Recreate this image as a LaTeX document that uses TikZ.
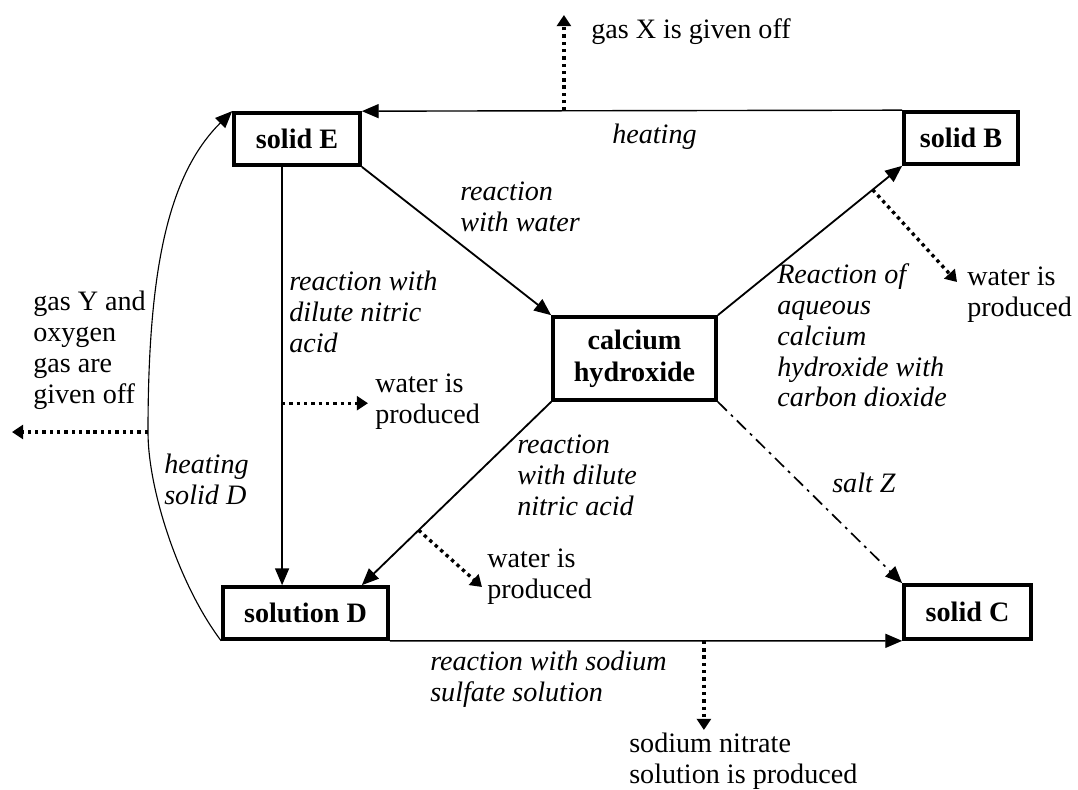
\documentclass[tikz,border=0pt]{standalone}
\usepackage{fontspec}
\setmainfont{Liberation Serif}
\usetikzlibrary{arrows.meta,calc}
\begin{document}
\begin{tikzpicture}[x=0.025cm,y=-0.025cm,
  box/.style={draw,line width=2.6pt,font=\fontsize{20}{22.5}\selectfont\bfseries,align=center,inner sep=0pt},
  lbl/.style={anchor=north west,inner sep=0pt,align=left,font=\fontsize{20}{22}\selectfont},
  ilbl/.style={anchor=north west,inner sep=0pt,align=left,font=\fontsize{20}{22}\selectfont\itshape},
  arr/.style={line width=1.3pt,-{Triangle[length=12pt,width=10pt]}},
  thinarr/.style={line width=1pt,-{Triangle[length=12pt,width=10pt]}},
  curvearr/.style={line width=0.8pt,-{Triangle[length=12pt,width=10pt]}},
  dotarr/.style={line width=2.4pt,dash pattern=on 2.4pt off 2.8pt,-{Triangle[length=8pt,width=10pt]}},
  dasharr/.style={line width=1.2pt,dash pattern=on 9pt off 4pt on 2pt off 4pt,-{Triangle[length=12pt,width=10pt]}},
  ]
\fill[white] (0,0) rectangle (1078,789);
\useasboundingbox (0,0) rectangle (1078,789);

% boxes
\node[box,minimum width=3.15cm,minimum height=1.3cm] (E) at (297,139) {solid E};
\node[box,minimum width=2.85cm,minimum height=1.3cm] (B) at (961,138) {solid B};
\node[box,minimum width=4.075cm,minimum height=2.075cm] (Ca) at (634.5,358.5) {calcium\\hydroxide};
\node[box,minimum width=4.125cm,minimum height=1.3cm] (D) at (305.5,613) {solution D};
\node[box,minimum width=3.175cm,minimum height=1.35cm] (C) at (967.5,612) {solid C};

% B -> E (heating)
\draw[thinarr] (B.north west) -- (E.north east);
\coordinate (gx0) at ($(E.north east)!0.374!(B.north west)$);
\coordinate (gx1) at (564,15);
\draw[dotarr] (gx0) -- (gx0 |- gx1);
\node[lbl] (tgx) at (591,16.3) {\strut gas X is given off};
\node[ilbl] (theat) at (612,121.3) {\strut heating};

% E -> Ca
\draw[arr] (E.south east) -- (Ca.north west);
\node[ilbl] (trw) at (460,178.3) {\strut reaction\\with water};

% E -> D
\coordinate (e1) at ($(E.south west)!0.385!(E.south east)$);
\draw[thinarr] (e1) -- (e1 |- D.north);
\node[ilbl] (trd1) at (289,268.3) {\strut reaction with\\dilute nitric\\acid};
\coordinate (w1s) at ($(e1)!0.565!(e1 |- D.north)$);
\coordinate (w1e) at (368,403);
\draw[dotarr] (w1s) -- (w1s -| w1e);
\node[lbl] (tw1) at (375,370.3) {\strut water is\\produced};

% Ca -> B
\draw[arr] (Ca.north east) -- (B.south west);
\coordinate (w2s) at ($(Ca.north east)!0.84!(B.south west)$);
\coordinate (w2e) at (957,282);
\draw[dotarr] (w2s) -- (w2e);
\node[lbl] (tw2) at (967,263.3) {\strut water is\\produced};
\node[ilbl] (tco2) at (777,261.3) {\strut Reaction of\\aqueous\\calcium\\hydroxide with\\carbon dioxide};

% Ca -> D
\coordinate (d1) at ($(D.north west)!0.834!(D.north east)$);
\draw[arr] (Ca.south west) -- (d1);
\coordinate (w3s) at ($(Ca.south west)!0.70!(d1)$);
\coordinate (w3e) at (482,587);
\draw[dotarr] (w3s) -- (w3e);
\node[ilbl] (trd2) at (517,431.3) {\strut reaction\\with dilute\\nitric acid};
\node[lbl] (tw3) at (487,545.3) {\strut water is\\produced};

% Ca -> C
\draw[dasharr] (Ca.south east) -- (C.north west);
\node[ilbl] (tz) at (832,470.3) {\strut salt Z};

% D -> C
\draw[thinarr] (D.south east) -- (C.south west);
\node[ilbl] (trss) at (430,648.3) {\strut reaction with sodium\\sulfate solution};
\coordinate (s0) at ($(D.south east)!0.613!(C.south west)$);
\coordinate (s1) at (704,730);
\draw[dotarr] (s0) -- (s0 |- s1);
\node[lbl] (tsn) at (629,731) {\strut sodium nitrate\\solution is produced};

% D -> E (heating solid D)
\coordinate (gy) at (148,432);
\coordinate (gye) at (12,432);
\draw[curvearr] (D.south west) .. controls (179,585) and (148,490) .. (gy) .. controls (148,270) and (168,175) .. (E.north west);
\draw[dotarr] (gy) -- (gye);
\node[lbl] (tgy) at (33,288.3) {\strut gas Y and\\oxygen\\gas are\\given off};
\node[ilbl] (thd) at (164,451.3) {\strut heating\\solid D};
\end{tikzpicture}
\end{document}
